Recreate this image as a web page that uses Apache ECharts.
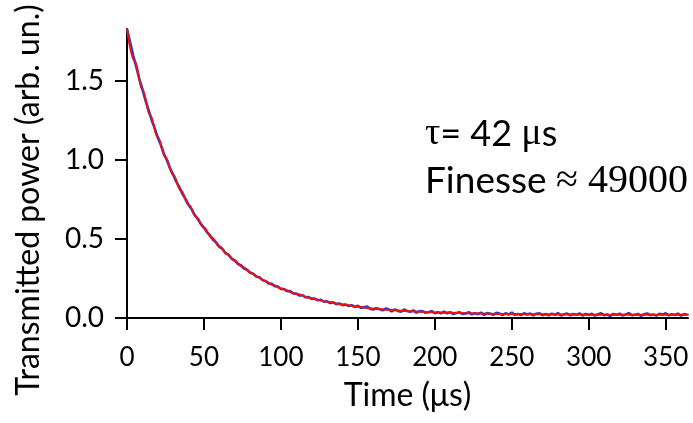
<!DOCTYPE html>
<html><head><meta charset="utf-8">
<script src="https://cdn.jsdelivr.net/npm/echarts@6/dist/echarts.min.js"></script>
<style>html,body{margin:0;padding:0;background:#fff}#c{width:693px;height:423px}</style>
</head><body><div id="c"></div>
<script>
// Measured data (blue), every 2 µs
var dataTimes = [];
for (var i = 0; i <= 182; i++) dataTimes.push(i * 2);
var dataValues = [
1.830,1.748,1.663,1.591,1.514,1.449,1.378,1.318,1.254,1.201,
1.143,1.095,1.040,0.997,0.946,0.908,0.863,0.829,0.786,0.754,
0.716,0.689,0.652,0.627,0.594,0.573,0.542,0.523,0.494,0.478,
0.450,0.437,0.412,0.400,0.375,0.365,0.342,0.334,0.313,0.306,
0.286,0.280,0.262,0.258,0.240,0.235,0.219,0.216,0.201,0.199,
0.184,0.183,0.169,0.170,0.155,0.155,0.142,0.144,0.131,0.133,
0.121,0.123,0.112,0.115,0.103,0.106,0.095,0.099,0.088,0.092,
0.081,0.086,0.076,0.081,0.070,
0.077,0.064,0.068,0.072,0.059,0.053,0.062,0.057,0.049,0.060,
0.055,0.042,0.054,0.045,0.040,0.054,0.045,0.039,0.048,0.034,
0.043,0.044,0.033,0.036,0.044,0.030,0.037,0.030,0.041,0.030,
0.037,0.025,0.032,0.037,0.025,0.028,0.037,0.023,0.031,0.024,
0.034,0.019,0.031,0.027,0.020,0.033,0.028,0.019,0.030,0.022,
0.034,0.020,0.026,0.018,0.030,0.022,0.028,0.016,0.027,0.030,
0.018,0.025,0.017,0.028,0.020,0.031,0.016,0.024,0.028,0.017,
0.025,0.020,0.029,0.016,0.026,0.019,0.027,0.015,0.024,0.030,
0.018,0.022,0.013,0.026,0.020,0.028,0.016,0.023,0.031,0.017,
0.021,0.026,0.014,0.024,0.029,0.018,0.022,0.015,0.027,0.020,
0.030,0.017,0.024,0.019,0.028,0.015,0.025,0.021
];
// Fit curve (red)
var fitTimes  = [0,5,10,15,20,25,30,35,40,45,50,55,60,65,70,75,80,85,90,95,100,110,120,130,140,150,160,170,180,190,200,220,240,260,280,300,330,365];
var fitValues = [1.830,1.627,1.446,1.286,1.144,1.018,0.906,0.807,0.718,0.640,0.570,0.509,0.454,0.405,0.362,0.324,0.290,0.259,0.232,0.209,0.187,0.152,0.124,0.102,0.085,0.071,0.060,0.052,0.045,0.040,0.035,0.030,0.026,0.024,0.022,0.021,0.021,0.020];
var xTicks = [0,50,100,150,200,250,300,350];
var yTicks = [0,0.5,1.0,1.5];
var xTitle = 'Time (\u03bcs)';
var yTitle = 'Transmitted power (arb. un.)';

function pairs(xs, ys){ var o=[]; for (var i=0;i<ys.length;i++) o.push([xs[i], ys[i]]); return o; }

var F = 'Lato, "Open Sans", sans-serif';
var chart = echarts.init(document.getElementById('c'), null, {renderer:'canvas'});
chart.setOption({
  animation:false,
  grid:{left:127,right:5,top:29,bottom:105,containLabel:false},
  xAxis:{type:'value',min:0,max:364.5,offset:3,
    axisLine:{lineStyle:{color:'#000',width:2}},
    axisTick:{length:12,lineStyle:{color:'#000',width:2},customValues:xTicks},
    axisLabel:{customValues:xTicks,color:'#000',fontFamily:F,fontSize:26,margin:24,formatter:function(v){return String(v);}},
    splitLine:{show:false},
    name:xTitle,nameLocation:'middle',nameGap:59,nameTextStyle:{color:'#000',fontFamily:F,fontSize:32}
  },
  yAxis:{type:'value',min:0,max:1.83,offset:3,
    axisLine:{show:true,lineStyle:{color:'#000',width:2}},
    axisTick:{show:true,length:12,lineStyle:{color:'#000',width:2},customValues:yTicks},
    axisLabel:{customValues:yTicks,color:'#000',fontFamily:F,fontSize:28,margin:20,formatter:function(v){return v.toFixed(1);}},
    splitLine:{show:false}
  },
  series:[
    {type:'line',data:pairs(dataTimes,dataValues),showSymbol:false,lineStyle:{color:'#1c3fd6',width:2.6},z:2},
    {type:'line',data:pairs(fitTimes,fitValues),showSymbol:false,smooth:0.4,smoothMonotone:'x',lineStyle:{color:'#f01010',width:2},z:3}
  ],
  graphic:[
    {type:'text',x:29,y:200,rotation:Math.PI/2,style:{text:yTitle,fill:'#000',font:'32px '+F,align:'center',verticalAlign:'middle'}},
    {type:'text',x:425,y:134,style:{text:'{g|\u03c4}{s|= 42 }{g|\u03bc}{s|s}',verticalAlign:'middle',align:'left',
      rich:{g:{fontFamily:'"Liberation Serif", serif',fontSize:38,fill:'#000'},s:{fontFamily:F,fontSize:36,fill:'#000'}}}},
    {type:'text',x:425,y:181,style:{text:'{s|Finesse }{g|\u2248 49000}',verticalAlign:'middle',align:'left',
      rich:{g:{fontFamily:'"Liberation Serif", serif',fontSize:40,fill:'#000'},s:{fontFamily:F,fontSize:37,fill:'#000'}}}}
  ]
});
</script></body></html>
